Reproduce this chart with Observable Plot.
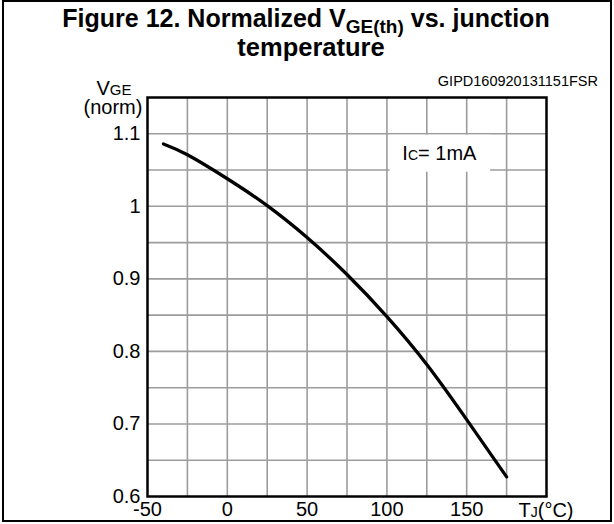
<!DOCTYPE html>
<html>
<head>
<meta charset="utf-8">
<script src="https://cdn.jsdelivr.net/npm/d3@7"></script>
<script src="https://cdn.jsdelivr.net/npm/@observablehq/plot@0.6"></script>
<style>
  html, body { margin: 0; padding: 0; background: white; }
  svg text { font-family: "Liberation Sans", Arial, sans-serif; }
</style>
</head>
<body>
<script>
// Junction temperature (°C) and normalized VGE(th)
const temps = [-40, -25, 0, 25, 50, 75, 100, 125, 150, 175];
const vge   = [1.086, 1.071, 1.038, 1.001, 0.957, 0.906, 0.848, 0.782, 0.706, 0.627];

const xTicks = [-50, 0, 50, 100, 150];
const yTicks = [0.6, 0.7, 0.8, 0.9, 1.0, 1.1];
const xGrid = [-25, 0, 25, 50, 75, 100, 125, 150, 175];
const yGrid = [0.65, 0.7, 0.75, 0.8, 0.85, 0.9, 0.95, 1.0, 1.05, 1.1];

const data = temps.map((t, i) => ({t, v: vge[i]}));
// annotation box (data units) behind the "Ic= 1mA" label
const labelBox = [{x1: 102, x2: 165, y1: 1.047, y2: 1.098}];

const plot = Plot.plot({
  width: 614,
  height: 524,
  marginLeft: 147,
  marginRight: 68,
  marginTop: 97,
  marginBottom: 28,
  style: {fontFamily: "Liberation Sans, Arial, sans-serif", fontSize: "20px", background: "white", color: "black", overflow: "visible"},
  x: {domain: [-50, 200]},
  y: {domain: [0.6, 1.15]},
  marks: [
    Plot.gridX(xGrid, {stroke: "#9c9c9c", strokeOpacity: 1, strokeWidth: 1.6}),
    Plot.gridY(yGrid, {stroke: "#9c9c9c", strokeOpacity: 1, strokeWidth: 1.6}),
    Plot.rect(labelBox, {x1: "x1", x2: "x2", y1: "y1", y2: "y2", fill: "white"}),
    Plot.line(data, {x: "t", y: "v", stroke: "black", strokeWidth: 3.3, curve: "natural"}),
    Plot.frame({stroke: "black", strokeWidth: 2.5}),
    Plot.axisY(yTicks, {tickSize: 0, tickPadding: 7, fontSize: 20, label: null, tickFormat: d => String(d)}),
    Plot.axisX(xTicks, {tickSize: 0, tickPadding: 5, fontSize: 20, label: null, tickFormat: d => String(d)})
  ]
});

document.body.appendChild(plot);

const svg = d3.select(plot);
const sx = plot.scale("x"), sy = plot.scale("y");
const font = "Liberation Sans, Arial, sans-serif";

// outer border
svg.append("rect")
  .attr("x", 3).attr("y", 1).attr("width", 608).attr("height", 520)
  .attr("fill", "none").attr("stroke", "black").attr("stroke-width", 2);

// title (two lines in one text element)
const t1 = svg.append("text")
  .attr("text-anchor", "middle")
  .attr("font-family", font).attr("font-weight", "bold").attr("font-size", 25)
  .attr("fill", "black");
t1.append("tspan").attr("x", 306).attr("y", 27).text("Figure 12. Normalized V");
t1.append("tspan").attr("font-size", 19).attr("dy", 6).text("GE(th)");
t1.append("tspan").attr("dy", -6).text(" vs. junction");
t1.append("tspan").attr("x", 311).attr("y", 56).attr("font-size", 25.5).text("temperature");

// code
svg.append("text")
  .attr("x", 598).attr("y", 86)
  .attr("text-anchor", "end")
  .attr("font-family", font).attr("font-size", 14.5)
  .attr("fill", "black")
  .text("GIPD160920131151FSR");

// y axis label (two lines in one text element)
const yl = svg.append("text")
  .attr("text-anchor", "middle")
  .attr("font-family", font).attr("font-size", 20).attr("fill", "black");
yl.append("tspan").attr("x", 114).attr("y", 95).text("V");
yl.append("tspan").attr("font-size", 15).text("GE");
yl.append("tspan").attr("x", 113).attr("y", 114).text("(norm)");

// x axis label at the 200 position
const xl = svg.append("text")
  .attr("x", sx.apply(200)).attr("y", 517)
  .attr("text-anchor", "middle")
  .attr("font-family", font).attr("font-size", 20).attr("fill", "black");
xl.append("tspan").text("T");
xl.append("tspan").attr("font-size", 14).text("J");
xl.append("tspan").text("(°C)");

// condition label
const ic = svg.append("text")
  .attr("x", sx.apply(110)).attr("y", sy.apply(1.063))
  .attr("text-anchor", "start")
  .attr("font-family", font).attr("font-size", 20).attr("fill", "black");
ic.append("tspan").text("I");
ic.append("tspan").attr("font-size", 14).text("C");
ic.append("tspan").text("= 1mA");
</script>
</body>
</html>
